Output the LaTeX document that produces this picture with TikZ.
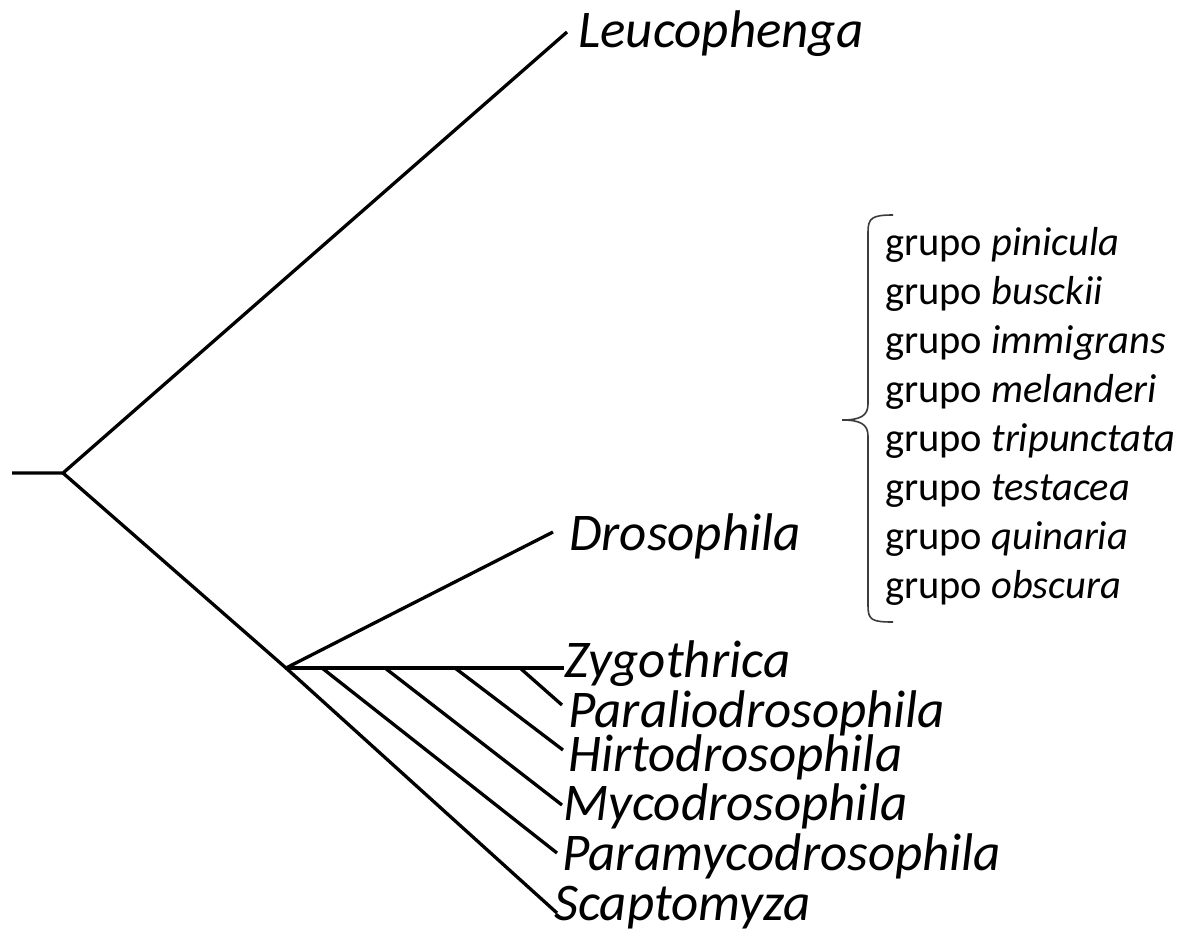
\documentclass[tikz,border=0pt]{standalone}
\usepackage{fontspec}
\setmainfont{Carlito}
\usepackage{tikz}
\usetikzlibrary{positioning,calc}
\definecolor{inkc}{HTML}{000000}
\definecolor{bracec}{HTML}{3C3C3C}
\tikzset{
  branch/.style={draw=inkc,line width=3.3pt},
  taxon/.style={inner sep=0pt,anchor=base west,text=inkc,
    font=\fontsize{53}{62}\selectfont\itshape},
  grupo/.style={inner sep=0pt,anchor=base west,text=inkc,
    font=\fontsize{40.5}{48}\selectfont},
  bracket/.style={draw=bracec,line width=1.6pt},
}

\begin{document}
\begin{tikzpicture}[x=1pt,y=-1pt]
  \useasboundingbox (0,0) rectangle (1180,935);
  % inner nodes of the tree
  \coordinate (stem) at (12,473);
  \coordinate (n0) at (63,473);
  \coordinate (n1) at (286,668);
  \coordinate (z1) at (322,668);
  \coordinate (z2) at (385,668);
  \coordinate (z3) at (455,668);
  \coordinate (z4) at (520,668);
  % tips
  \coordinate (tLeu) at (567,32);
  \coordinate (tDro) at (553,532);
  \coordinate (tZyg) at (564,668);
  \coordinate (tPal) at (562,705);
  \coordinate (tHir) at (563,750);
  \coordinate (tMyc) at (562,805);
  \coordinate (tPmy) at (557,853);
  \coordinate (tSca) at (557,913);

  \draw[branch] (stem) -- (n0) -- (tLeu);
  \draw[branch] (n0) -- (n1) -- (tDro);
  \draw[branch] (n1) -- (tZyg);
  \draw[branch] (n1) -- (tSca);
  \draw[branch] (z1) -- (tPmy);
  \draw[branch] (z2) -- (tMyc);
  \draw[branch] (z3) -- (tHir);
  \draw[branch] (z4) -- (tPal);

  \node[taxon] (leu) at (578,47) {Leucophenga};
  \node[taxon] (dro) at (569,550) {Drosophila};
  \node[taxon] (zyg) at (564,677) {Zygothrica};
  \node[taxon] (pal) at (568,727) {Paraliodrosophila};
  \node[taxon] (hir) at (568,771) {Hirtodrosophila};
  \node[taxon] (myc) at (563,820) {Mycodrosophila};
  \node[taxon] (pmy) at (562,870) {Paramycodrosophila};
  \node[taxon] (sca) at (554,920) {Scaptomyza};

  % species groups of Drosophila
  \foreach \g [count=\i from 0] in {pinicula,busckii,immigrans,melanderi,
      tripunctata,testacea,quinaria,obscura}
    \node[grupo] (g\i) at (885,255+49*\i) {grupo \textit{\g}};

  \coordinate (bTop) at (893,215);
  \coordinate (bTip) at (842,420);
  \coordinate (bBot) at (893,622);
  \draw[bracket] (bTop) .. controls (872,215) and (868,218) .. (868,232)
    -- (868,404) .. controls (868,416) and (860,420) .. (bTip)
    .. controls (860,420) and (868,424) .. (868,436)
    -- (868,606) .. controls (868,620) and (872,622) .. (bBot);
\end{tikzpicture}
\end{document}
